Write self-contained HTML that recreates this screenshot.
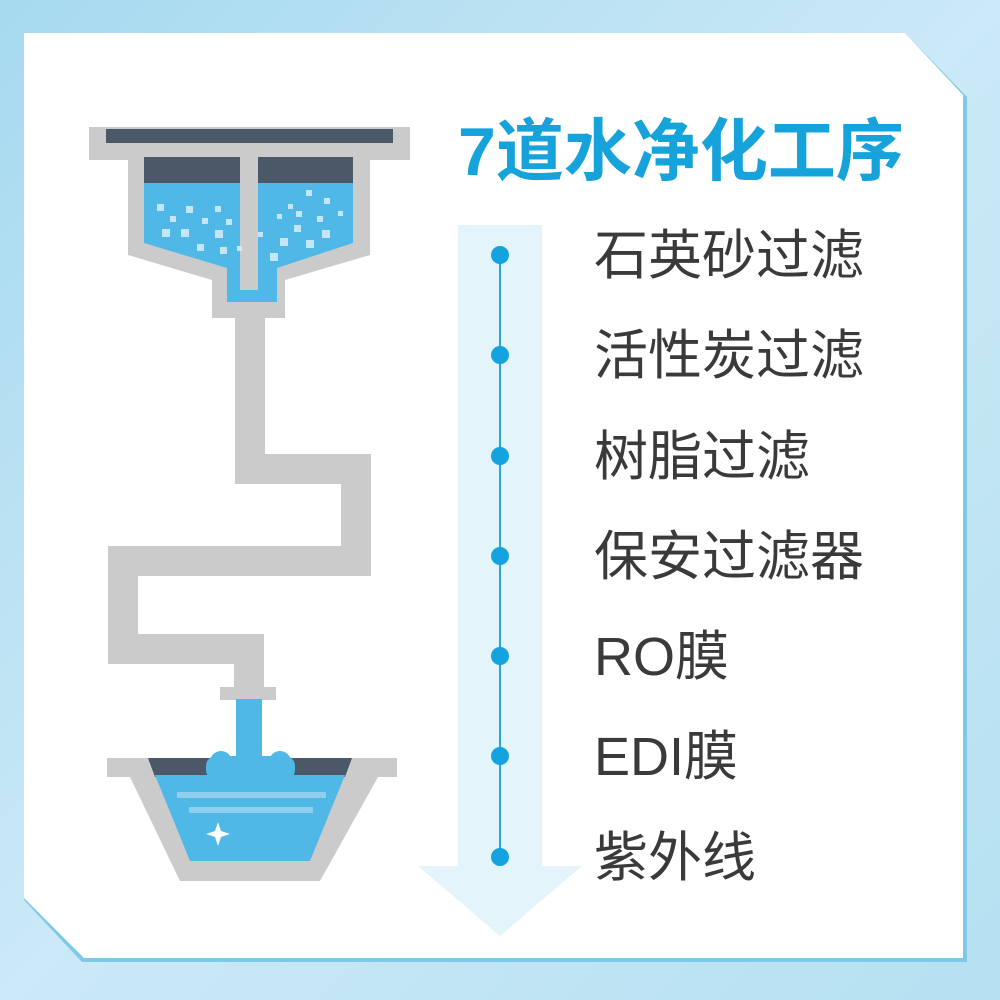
<!DOCTYPE html>
<html><head><meta charset="utf-8"><style>
html,body{margin:0;padding:0;width:1000px;height:1000px;overflow:hidden;}
text{font-family:"Liberation Sans","Noto Sans CJK SC",sans-serif;}
</style></head><body>
<svg width="1000" height="1000" viewBox="0 0 1000 1000" xmlns="http://www.w3.org/2000/svg">
<defs>
<linearGradient id="bg" x1="0" y1="0" x2="1" y2="1">
<stop offset="0" stop-color="#a6d9ef"/><stop offset="0.5" stop-color="#cbe9f6"/><stop offset="1" stop-color="#b5e0f2"/>
</linearGradient>
</defs>
<rect width="1000" height="1000" fill="url(#bg)"/>
<!-- card -->
<polygon points="24,33 905,33 967,97 967,962 82,962 24,900" fill="#7fc9e8"/>
<polygon points="24,33 905,33 963,95 963,958 84,958 24,898" fill="#ffffff"/>
<!-- arrow -->
<rect x="458" y="225" width="84" height="642" fill="#e4f4fb"/>
<polygon points="418,866 582,866 500,936" fill="#e4f4fb"/>
<line x1="500" y1="255" x2="500" y2="857" stroke="#2ba6cf" stroke-width="2"/>
<g fill="#14a3de">
<circle cx="500" cy="255" r="9"/><circle cx="500" cy="355" r="9"/><circle cx="500" cy="456" r="9"/>
<circle cx="500" cy="556" r="9"/><circle cx="500" cy="656" r="9"/><circle cx="500" cy="756" r="9"/><circle cx="500" cy="857" r="9"/>
</g>
<!-- title -->
<text x="458" y="175" font-size="68" font-weight="bold" fill="#16a3dc">7道水净化工序</text>
<g font-size="54" fill="#3a3a3a">
<text x="594" y="274">石英砂过滤</text>
<text x="594" y="374">活性炭过滤</text>
<text x="594" y="475">树脂过滤</text>
<text x="594" y="575">保安过滤器</text>
<text x="594" y="675">RO膜</text>
<text x="594" y="775">EDI膜</text>
<text x="594" y="876">紫外线</text>
</g>
<!-- funnel -->
<rect x="89" y="127" width="321" height="33" fill="#cbcbcb"/>
<rect x="106" y="129" width="287" height="14" fill="#4a5868"/>
<polygon points="128,160 370,160 370,255 285,280 285,318 212,318 212,280 128,255" fill="#cbcbcb"/>
<rect x="144" y="157" width="96" height="26" fill="#4a5868"/>
<rect x="258" y="157" width="95" height="26" fill="#4a5868"/>
<polygon points="144,183 240,183 240,290 258,290 258,183 353,183 353,243 277,268 277,302 227,302 227,268 144,243" fill="#4fb8e6"/>
<g fill="#d8eef8" opacity="0.85">
<rect x="157" y="204" width="7" height="7"/><rect x="186" y="206" width="7" height="7"/><rect x="170" y="216" width="6" height="6"/>
<rect x="215" y="206" width="6" height="6"/><rect x="202" y="218" width="6" height="6"/><rect x="226" y="219" width="6" height="6"/>
<rect x="162" y="229" width="8" height="8"/><rect x="181" y="229" width="8" height="8"/><rect x="215" y="230" width="8" height="8"/>
<rect x="197" y="244" width="7" height="7"/><rect x="220" y="247" width="7" height="7"/>
<rect x="270" y="253" width="8" height="8"/><rect x="280" y="238" width="8" height="8"/><rect x="294" y="225" width="7" height="7"/>
<rect x="306" y="240" width="8" height="8"/><rect x="322" y="230" width="8" height="8"/><rect x="317" y="216" width="6" height="6"/>
<rect x="296" y="211" width="6" height="6"/><rect x="324" y="198" width="6" height="6"/><rect x="306" y="190" width="6" height="6"/>
<rect x="288" y="204" width="5" height="5"/><rect x="277" y="214" width="5" height="5"/><rect x="258" y="232" width="5" height="5"/>
<rect x="338" y="211" width="5" height="5"/><rect x="237" y="246" width="5" height="5"/>
</g>
<!-- pipe -->
<path d="M250,318 V469 H356 V561 H123 V649 H249 V690" fill="none" stroke="#cbcbcb" stroke-width="30" stroke-linejoin="miter"/>
<rect x="220" y="687" width="56" height="13" fill="#cbcbcb"/>
<!-- basin -->
<rect x="107" y="758" width="290" height="19" fill="#cbcbcb"/>
<polygon points="130,777 378,777 320,881 180,881" fill="#cbcbcb"/>
<polygon points="148,758 352,758 345,777 155,777" fill="#4a5868"/>
<polygon points="155,775 345,775 310,861 190,861" fill="#4fb8e6"/>
<rect x="236" y="699" width="26" height="70" fill="#4fb8e6"/>
<circle cx="221" cy="762" r="11" fill="#4fb8e6"/>
<circle cx="280" cy="762" r="11" fill="#4fb8e6"/>
<rect x="206" y="756" width="89" height="24" rx="10" fill="#4fb8e6"/>
<rect x="177" y="792" width="149" height="6" fill="#8fcfee"/>
<rect x="189" y="807" width="124" height="6" fill="#8fcfee"/>
<path d="M218,822 L221,831 L230,834 L221,837 L218,846 L215,837 L206,834 L215,831 Z" fill="#ffffff"/>
</svg>
</body></html>
